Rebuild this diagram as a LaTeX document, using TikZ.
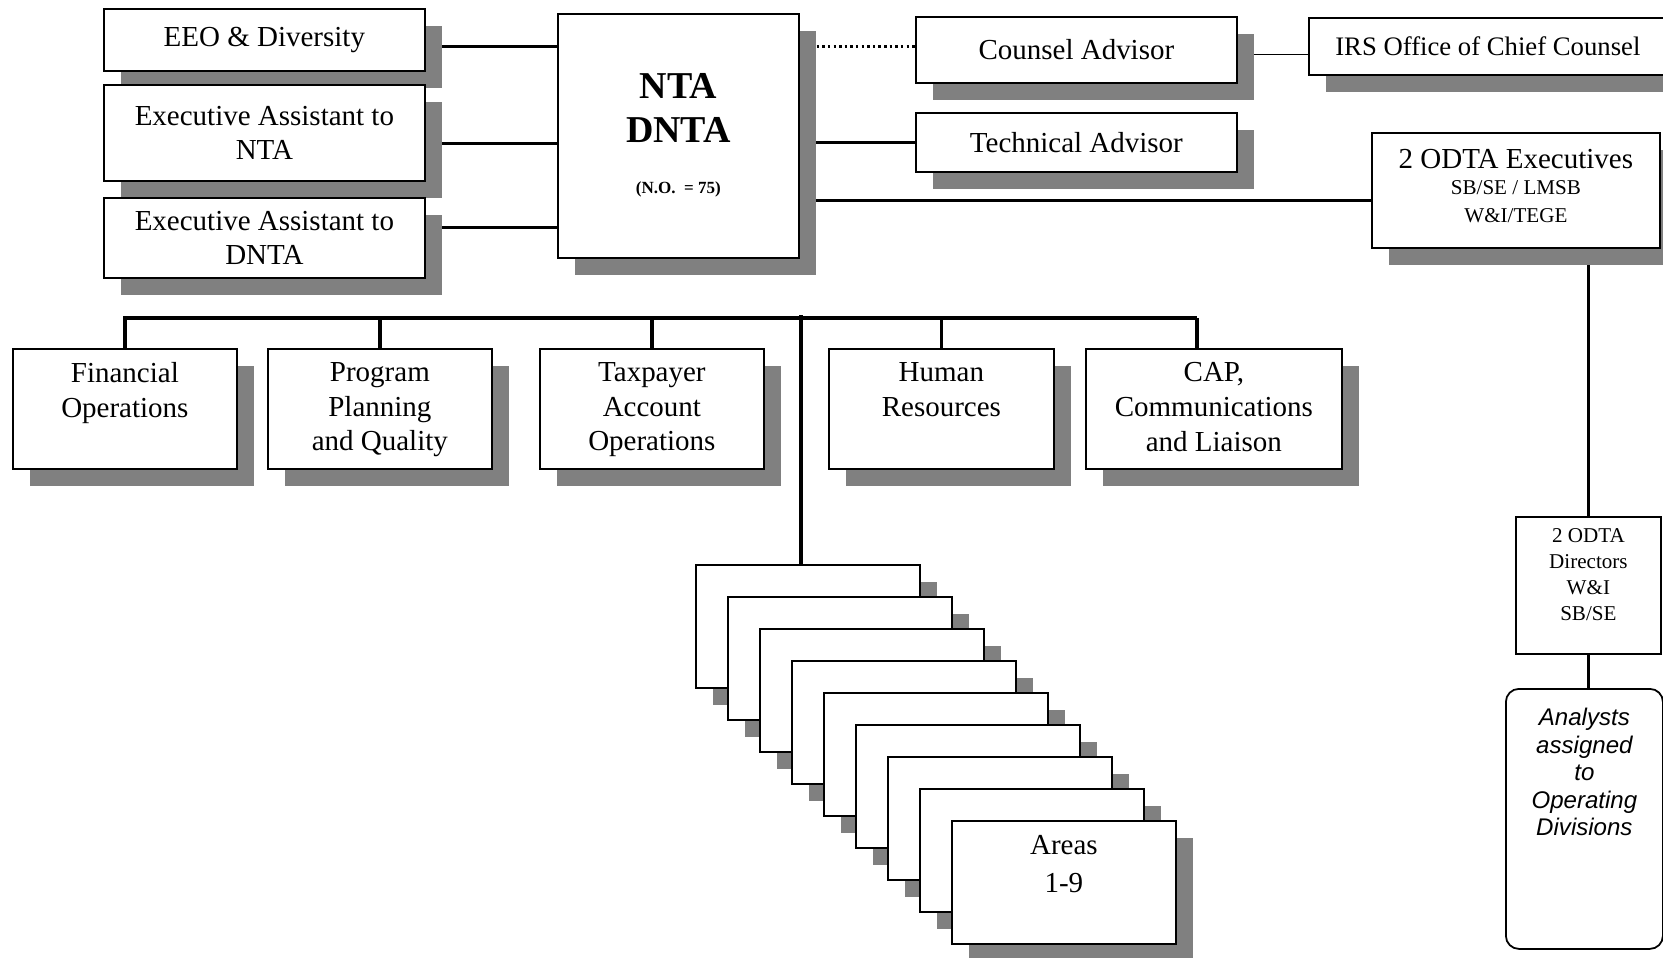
\documentclass[tikz,border=0pt]{standalone}
\usepackage{fontspec}
\setmainfont{Liberation Serif}
\setsansfont{Liberation Sans}
\usetikzlibrary{shadows}
\pgfdeclarelayer{bg}
\pgfsetlayers{bg,main}

\begin{document}
\begin{tikzpicture}[x=0.02cm,y=-0.02cm,
    bw/.style={minimum width=#1*0.02cm},
    bh/.style={minimum height=#1*0.02cm},
    box/.style={draw, line width=1pt, fill=white, inner sep=0pt, anchor=north west,
        align=center, font=\fontsize{16.5}{19.8}\selectfont},
    shbox/.style={box, drop shadow={shadow xshift=9.7pt, shadow yshift=-9.7pt,
        fill=black!50, draw=none, opacity=1}},
    txt/.style={inner sep=0pt, align=center, anchor=north, font=\fontsize{16.5}{19.8}\selectfont},
    smalltxt/.style={txt, font=\fontsize{12}{14.8}\selectfont},
    ntatxt/.style={txt, font=\bfseries\fontsize{21.6}{25}\selectfont},
    anatxt/.style={txt, font=\sffamily\itshape\fontsize{13.7}{15.6}\selectfont},
    conn/.style={line width=1.7pt},
    stub/.style={line width=2pt},
    bus/.style={line width=2.8pt},
    dotline/.style={line width=1.8pt, dash pattern=on 1.4pt off 1.8pt}]
    \useasboundingbox (0,0) rectangle (1663,957);
    \clip (0,0) rectangle (1663,957);
    % NTA / DNTA
    \node[shbox, bw=241, bh=244] (nta) at (557,13) {};
    \node[ntatxt] (ntaT) at ([yshift=-34pt]nta.north) {NTA\\DNTA};
    \node[ntatxt, anchor=base, font=\bfseries\fontsize{9.7}{11}\selectfont] (ntaN)
        at ([yshift=37pt]nta.south) {(N.O.\ \ = 75)};
    % Staff
    \node[shbox, bw=321, bh=62] (eeo) at (103,8) {EEO \& Diversity};
    \node[shbox, bw=321, bh=96] (ean) at (103,84) {Executive Assistant to\\NTA};
    \node[shbox, bw=321, bh=80] (edn) at (103,197) {Executive Assistant to\\DNTA};
    \node[shbox, bw=321, bh=66] (cns) at (915,16) {Counsel Advisor};
    \node[shbox, bw=321, bh=59] (tech) at (915,112) {Technical Advisor};
    \node[shbox, bw=358, bh=57, font=\fontsize{15.2}{18}\selectfont] (irs) at (1308,17)
        {IRS Office of Chief Counsel};
    \node[shbox, bw=288, bh=115] (odx) at (1371,132) {};
    \node[txt] (odxT) at ([yshift=-9.7pt]odx.north) {2 ODTA Executives};
    \node[smalltxt, font=\fontsize{12}{16}\selectfont] (odxS) at ([yshift=-27.3pt]odx.north)
        {SB/SE / LMSB\\W\&I/TEGE};
    % Funzioni
    \node[shbox, bw=224, bh=120] (fin) at (12,348) {};
    \node[shbox, bw=224, bh=120] (ppq) at (267,348) {};
    \node[shbox, bw=224, bh=120] (tao) at (539,348) {};
    \node[shbox, bw=225, bh=120] (hr) at (828,348) {};
    \node[shbox, bw=256, bh=120] (cap) at (1085,348) {};
    \node[txt] (finT) at ([yshift=-8pt]fin.north) {Financial\\Operations};
    \node[txt] (ppqT) at ([yshift=-8pt]ppq.north) {Program\\Planning\\and Quality};
    \node[txt] (taoT) at ([yshift=-8pt]tao.north) {Taxpayer\\Account\\Operations};
    \node[txt] (hrT) at ([yshift=-8pt]hr.north) {Human\\Resources};
    \node[txt] (capT) at ([yshift=-8pt]cap.north) {CAP,\\Communications\\and Liaison};
    % Aree
    \foreach \i in {1,...,9}
        \node[shbox, bw=224, bh=123] (area\i) at ({695+32*(\i-1)},{564+32*(\i-1)}) {};
    \node[txt, font=\fontsize{16.5}{21.6}\selectfont] (areaT) at ([yshift=-8.5pt]area9.north)
        {Areas\\1-9};
    % ODTA
    \node[box, bw=145, bh=137] (dir) at (1515,516) {};
    \node[smalltxt] (dirT) at ([yshift=-6.8pt]dir.north) {2 ODTA\\Directors\\W\&I\\SB/SE};
    \node[box, bw=157, bh=260, rounded corners=7.4pt] (ana) at (1505,688) {};
    \node[anatxt] (anaT) at ([yshift=-11.4pt]ana.north)
        {Analysts\\assigned\\to\\Operating\\Divisions};
    % Linee
    \begin{pgfonlayer}{bg}
        \draw[conn] ([yshift=-4pt]eeo.east) -- ([yshift=-4pt]eeo.east -| nta.west);
        \draw[conn] ([yshift=-6.3pt]ean.east) -- ([yshift=-6.3pt]ean.east -| nta.west);
        \draw[conn] ([yshift=5.7pt]edn.east) -- ([yshift=5.7pt]edn.east -| nta.west);
        \draw[dotline] ([yshift=1.7pt]cns.west -| nta.east) -- ([yshift=1.7pt]cns.west);
        \draw[conn] (tech.west -| nta.east) -- (tech.west);
        \draw[conn] ([yshift=-6pt]odx.west -| nta.east) -- ([yshift=-6pt]odx.west);
        \draw[line width=0.7pt] ([yshift=-2.8pt]cns.east) -- ([yshift=-2.8pt]cns.east -| irs.west);
        \draw[conn] (dir.north |- odx.south) -- (dir.north);
        \draw[conn] (dir.south) -- (dir.south |- ana.north);
        \coordinate (busL) at (123,318);
        \coordinate (busR) at (1197,318);
        \coordinate (busA) at (801,315);
        \draw[bus] (busL) -- (busR);
        \foreach \n in {fin,ppq,tao,hr}
            \draw[stub] (\n.north |- busL) -- (\n.north);
        \draw[stub] (busR) -- (busR |- cap.north);
        \draw[stub] (busA) -- (busA |- area1.north);
    \end{pgfonlayer}
\end{tikzpicture}
\end{document}
